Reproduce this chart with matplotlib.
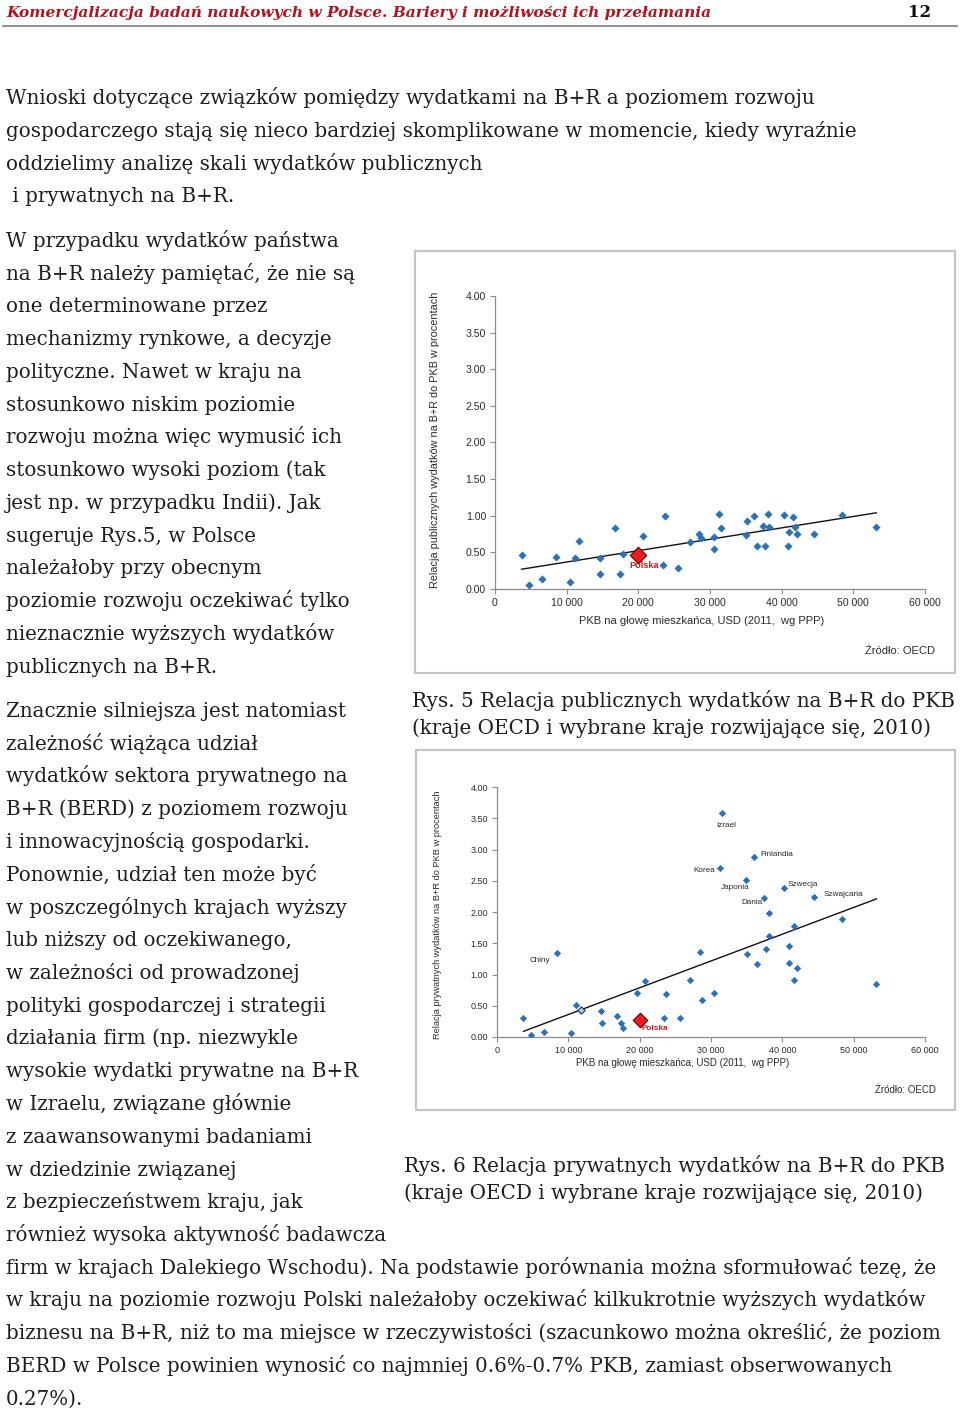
import matplotlib
matplotlib.use("Agg")
import matplotlib.pyplot as plt
from matplotlib.patches import Rectangle
from matplotlib.lines import Line2D
from matplotlib.ticker import FuncFormatter

# ---------------- data ----------------
gdp_public = [3740, 4760, 6560, 8460, 10400, 11100, 11700, 14700, 14700, 16800,
              17400, 17800, 20700, 23400, 23700, 25600, 27200, 28500, 28800, 30500,
              30500, 31300, 31600, 35000, 35100, 36100, 36600, 37400, 37700, 38100,
              38300, 40300, 40900, 41000, 41600, 41800, 42100, 44500, 48400, 53200]
rd_public = [0.46, 0.05, 0.13, 0.44, 0.10, 0.43, 0.65, 0.43, 0.21, 0.83,
             0.21, 0.48, 0.73, 0.33, 1.00, 0.29, 0.64, 0.75, 0.70, 0.71,
             0.55, 1.03, 0.83, 0.74, 0.93, 1.00, 0.59, 0.86, 0.59, 1.03,
             0.84, 1.01, 0.59, 0.78, 0.98, 0.84, 0.75, 0.75, 1.01, 0.84]
poland_gdp = 20000
poland_public = 0.47
poland_private = 0.28
trend_gdp = [3700, 53200]
trend_public = [0.27, 1.04]
trend_private = [0.09, 2.21]

gdp_private = [3700, 4720, 6530, 8380, 10370, 11060, 14560, 14660, 16800, 17340,
               17730, 19630, 20700, 23400, 23700, 25600, 27100, 28500, 28700, 30400,
               31200, 31500, 34900, 35100, 36000, 36500, 37400, 37700, 38100, 38100,
               40300, 40900, 40900, 41600, 41700, 42000, 44500, 48400, 53200]
rd_private = [0.30, 0.03, 0.08, 1.34, 0.06, 0.51, 0.42, 0.23, 0.34, 0.22,
              0.15, 0.70, 0.90, 0.31, 0.69, 0.31, 0.92, 1.36, 0.60, 0.71,
              2.71, 3.58, 2.52, 1.33, 2.88, 1.17, 2.22, 1.41, 1.98, 1.61,
              2.39, 1.46, 1.19, 1.78, 0.91, 1.10, 2.24, 1.89, 0.85]
outlined_gdp = [11790]
outlined_private = [0.43]

label_names = ["Izrael", "Finlandia", "Korea", "Japonia", "Szwecja", "Szwajcaria", "Dania", "Chiny"]
label_gdp = [31500, 36000, 31200, 34900, 40300, 44500, 37400, 8380]
label_private = [3.58, 2.88, 2.71, 2.52, 2.39, 2.24, 2.22, 1.34]

x_ticks = [0, 10000, 20000, 30000, 40000, 50000, 60000]
y_ticks = [0.0, 0.5, 1.0, 1.5, 2.0, 2.5, 3.0, 3.5, 4.0]

header_text = "Komercjalizacja badań naukowych w Polsce. Bariery i możliwości ich przełamania"
page_number = "12"

para1 = ["Wnioski dotyczące związków pomiędzy wydatkami na B+R a poziomem rozwoju",
         "gospodarczego stają się nieco bardziej skomplikowane w momencie, kiedy wyraźnie",
         "oddzielimy analizę skali wydatków publicznych",
         " i prywatnych na B+R."]
para2 = ["W przypadku wydatków państwa",
         "na B+R należy pamiętać, że nie są",
         "one determinowane przez",
         "mechanizmy rynkowe, a decyzje",
         "polityczne. Nawet w kraju na",
         "stosunkowo niskim poziomie",
         "rozwoju można więc wymusić ich",
         "stosunkowo wysoki poziom (tak",
         "jest np. w przypadku Indii). Jak",
         "sugeruje Rys.5, w Polsce",
         "należałoby przy obecnym",
         "poziomie rozwoju oczekiwać tylko",
         "nieznacznie wyższych wydatków",
         "publicznych na B+R."]
para3 = ["Znacznie silniejsza jest natomiast",
         "zależność wiążąca udział",
         "wydatków sektora prywatnego na",
         "B+R (BERD) z poziomem rozwoju",
         "i innowacyjnością gospodarki.",
         "Ponownie, udział ten może być",
         "w poszczególnych krajach wyższy",
         "lub niższy od oczekiwanego,",
         "w zależności od prowadzonej",
         "polityki gospodarczej i strategii",
         "działania firm (np. niezwykle",
         "wysokie wydatki prywatne na B+R",
         "w Izraelu, związane głównie",
         "z zaawansowanymi badaniami",
         "w dziedzinie związanej",
         "z bezpieczeństwem kraju, jak",
         "również wysoka aktywność badawcza",
         "firm w krajach Dalekiego Wschodu). Na podstawie porównania można sformułować tezę, że",
         "w kraju na poziomie rozwoju Polski należałoby oczekiwać kilkukrotnie wyższych wydatków",
         "biznesu na B+R, niż to ma miejsce w rzeczywistości (szacunkowo można określić, że poziom",
         "BERD w Polsce powinien wynosić co najmniej 0.6%-0.7% PKB, zamiast obserwowanych",
         "0.27%)."]
caption5 = ["Rys. 5 Relacja publicznych wydatków na B+R do PKB",
            "(kraje OECD i wybrane kraje rozwijające się, 2010)"]
caption6 = ["Rys. 6 Relacja prywatnych wydatków na B+R do PKB",
            "(kraje OECD i wybrane kraje rozwijające się, 2010)"]
ylabel_public = "Relacja publicznych wydatków na B+R do PKB w procentach"
ylabel_private = "Relacja prywatnych wydatków na B+R do PKB w procentach"
xlabel_text = "PKB na głowę mieszkańca, USD (2011,  wg PPP)"
source_text = "Źródło: OECD"

# ---------------- layout helpers ----------------
W, H = 960, 1411
fig = plt.figure(figsize=(W / 100, H / 100), dpi=100)
fig.patch.set_facecolor("white")
renderer = fig.canvas.get_renderer()

SERIF = ["DejaVu Serif"]
SANS = ["Liberation Sans", "DejaVu Sans"]
BODY_COLOR = "#1e1e1e"
LABEL_COLOR = "#2b2b2b"


def fx(x):
    return x / W


def fy(y):
    return 1 - y / H


def fit_size(text, target_px, **kw):
    t = fig.text(0, 0, text, fontsize=20, **kw)
    w = t.get_window_extent(renderer).width
    t.remove()
    return 20 * target_px / w


def page_text(x, y, s, **kw):
    return fig.text(fx(x), fy(y), s, transform=fig.transFigure, **kw)


# ---------------- header ----------------
hsize = fit_size(header_text, 704, family=SERIF, weight="bold", style="italic")
page_text(6, 17, header_text, family=SERIF, weight="bold", style="italic",
          color="#B5121B", fontsize=hsize, va="baseline")
page_text(931, 17, page_number, family=SERIF, weight="bold", color="#111111",
          fontsize=12, va="baseline", ha="right")
fig.add_artist(Line2D([fx(3), fx(957)], [fy(26), fy(26)], transform=fig.transFigure,
                      color="#7f7f7f", lw=1.2))

# ---------------- body text ----------------
bsize = fit_size(para1[1], 848, family=SERIF)
LS = 32.75


def put_lines(lines, x0, y_first):
    for i, s in enumerate(lines):
        page_text(x0, y_first + i * LS + 7, s, family=SERIF, fontsize=bsize,
                  color=BODY_COLOR, va="baseline")


put_lines(para1, 6, 97)
put_lines(para2, 6, 240)
put_lines(para3, 6, 710)

csize = fit_size(caption5[0], 541, family=SERIF)
page_text(412, 707, caption5[0], family=SERIF, fontsize=csize, color=BODY_COLOR, va="baseline")
page_text(412, 734, caption5[1], family=SERIF, fontsize=csize, color=BODY_COLOR, va="baseline")
page_text(404, 1172, caption6[0], family=SERIF, fontsize=csize, color=BODY_COLOR, va="baseline")
page_text(404, 1199, caption6[1], family=SERIF, fontsize=csize, color=BODY_COLOR, va="baseline")

# ---------------- chart frames ----------------
for (x0, y0, x1, y1) in [(415, 251, 955, 673), (416, 750, 955, 1110)]:
    fig.add_artist(Rectangle((fx(x0), fy(y1)), fx(x1 - x0), (y1 - y0) / H,
                             transform=fig.transFigure, fill=False,
                             edgecolor="#c4c4c4", lw=1.6))

BLUE = "#2a72b8"
AXIS_GREY = "#8c8c8c"


def make_axes(px_left, px_right, px_bottom, px_top, tick_fs):
    ax = fig.add_axes([fx(px_left), fy(px_bottom), fx(px_right - px_left),
                       (px_bottom - px_top) / H])
    ax.set_xlim(0, 60000)
    ax.set_ylim(0, 4)
    ax.set_xticks(x_ticks)
    ax.set_yticks(y_ticks)
    ax.xaxis.set_major_formatter(FuncFormatter(lambda v, p: f"{int(v):,}".replace(",", " ")))
    ax.yaxis.set_major_formatter(FuncFormatter(lambda v, p: f"{v:.2f}"))
    for sp in ["top", "right"]:
        ax.spines[sp].set_visible(False)
    for sp in ["left", "bottom"]:
        ax.spines[sp].set_color(AXIS_GREY)
        ax.spines[sp].set_linewidth(0.9)
    ax.tick_params(axis="both", direction="out", length=3.5, width=0.8, color=AXIS_GREY,
                   labelsize=tick_fs, labelcolor=LABEL_COLOR, pad=3)
    for lab in ax.get_xticklabels() + ax.get_yticklabels():
        lab.set_family(SANS)
    ax.patch.set_alpha(0)
    return ax


# ---------------- chart 1 (public) ----------------
ax1 = make_axes(495, 925, 589, 296, 7.6)
ax1.plot(trend_gdp, trend_public, color="#111111", lw=1.0, zorder=2)
ax1.scatter(gdp_public, rd_public, marker="D", s=17, color=BLUE, zorder=3, linewidths=0)
ax1.scatter([poland_gdp], [poland_public], marker="D", s=70, color="#ee1c1c",
            edgecolors="#5a0000", linewidths=0.8, zorder=4)
ax1.annotate("Polska", (poland_gdp, poland_public), xytext=(6, -11),
             textcoords="offset pixels", ha="center", va="center", fontsize=6.6,
             weight="bold", color="#d7191c", family=SANS)

page_text(435, 440, ylabel_public, family=SANS, fontsize=7.8, rotation=90,
          ha="center", va="center", color=LABEL_COLOR)
page_text(702, 621, xlabel_text, family=SANS, fontsize=8.0, ha="center", va="center",
          color=LABEL_COLOR)
page_text(935, 651, source_text, family=SANS, fontsize=8.0, ha="right", va="center",
          color=LABEL_COLOR)

# ---------------- chart 2 (private) ----------------
ax2 = make_axes(497, 925, 1037, 787, 6.5)
ax2.plot(trend_gdp, trend_private, color="#111111", lw=1.0, zorder=2)
ax2.scatter(gdp_private, rd_private, marker="D", s=14, color=BLUE, zorder=3, linewidths=0)
ax2.scatter(outlined_gdp, outlined_private, marker="D", s=14, color="#a9c8e8",
            edgecolors="#1f3550", linewidths=0.8, zorder=4)
ax2.scatter([poland_gdp], [poland_private], marker="D", s=55, color="#ee1c1c",
            edgecolors="#5a0000", linewidths=0.8, zorder=4)
ax2.annotate("Polska", (poland_gdp, poland_private), xytext=(2, -9),
             textcoords="offset pixels", ha="left", va="center", fontsize=5.9,
             weight="bold", color="#d7191c", family=SANS)

label_style = {
    "Izrael": ((4, -12), "center"),
    "Finlandia": ((7, 3), "left"),
    "Korea": ((-4, -3), "right"),
    "Japonia": ((-11, -8), "center"),
    "Szwecja": ((3, 3), "left"),
    "Szwajcaria": ((9, 3), "left"),
    "Dania": ((-12, -4), "center"),
    "Chiny": ((-17, -7), "center"),
}
for name, gx, gy in zip(label_names, label_gdp, label_private):
    off, ha = label_style[name]
    ax2.annotate(name, (gx, gy), xytext=off, textcoords="offset pixels", ha=ha,
                 va="center", fontsize=5.9, color=LABEL_COLOR, family=SANS)

page_text(437, 915, ylabel_private, family=SANS, fontsize=6.7, rotation=90,
          ha="center", va="center", color=LABEL_COLOR)
page_text(683, 1063, xlabel_text, family=SANS, fontsize=7.0, ha="center", va="center",
          color=LABEL_COLOR)
page_text(936, 1090, source_text, family=SANS, fontsize=7.0, ha="right", va="center",
          color=LABEL_COLOR)

fig.savefig("out.png", dpi=100, facecolor="white")
